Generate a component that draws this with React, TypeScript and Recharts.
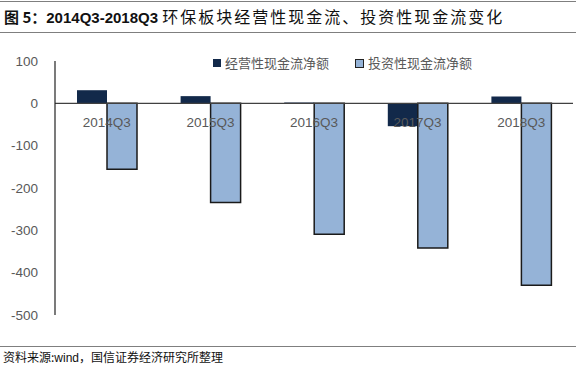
import { BarChart, Bar, XAxis, YAxis, ReferenceLine } from 'recharts';

const categories = ['2014Q3', '2015Q3', '2016Q3', '2017Q3', '2018Q3'];
const operating = [31, 17, 2, -54, 16];
const investing = [-156, -234, -309, -342, -430];
const yTicks = [100, 0, -100, -200, -300, -400, -500];

const data = categories.map((c, i) => ({ name: c, op: operating[i], inv: investing[i] }));

const W = 576;
const H = 365;
const TOP = 61;
const PLOT_BOTTOM = 315;
const X_AXIS_H = 20;
const Y_MIN = -500;
const Y_MAX = 100;
const sans = '"Liberation Sans", Arial, "Noto Sans CJK SC", sans-serif';
const cjk = '"Noto Sans CJK SC", sans-serif';

// x labels sit just under the zero line, not at the bottom of the plot
const XTick = (props: any) => {
  const { x, payload } = props;
  const plotH = PLOT_BOTTOM - TOP;
  const zeroY = TOP + plotH * (Y_MAX - 0) / (Y_MAX - Y_MIN);
  return (
    <text x={x} y={zeroY + 24} textAnchor="middle" fill="#595959" fontSize={13.5} fontFamily={sans}>
      {payload.value}
    </text>
  );
};

export default function App() {
  return (
    <div style={{ position: 'absolute', left: 0, top: 0, width: W, height: H, background: '#fff' }}>
      <div style={{ position: 'absolute', left: 0, top: 1, width: W, borderTop: '1.5px solid #7f7f7f' }} />
      <div style={{ position: 'absolute', left: 4, top: 5, fontSize: 15, color: '#111', whiteSpace: 'nowrap', lineHeight: '22px' }}>
        <span style={{ fontFamily: cjk, fontWeight: 700 }}>图 5：</span>
        <span style={{ fontFamily: sans, fontWeight: 700 }}>2014Q3-2018Q3 </span>
        <span style={{ fontFamily: cjk, fontSize: 16, letterSpacing: 2 }}>环保板块经营性现金流、投资性现金流变化</span>
      </div>
      <div style={{ position: 'absolute', left: 0, top: 32, width: W, borderTop: '1.5px solid #7f7f7f' }} />
      <div style={{ position: 'absolute', left: 0, top: 0 }}>
        <BarChart
          width={W}
          height={H}
          data={data}
          margin={{ top: TOP, right: 3, bottom: H - PLOT_BOTTOM - X_AXIS_H, left: 0 }}
          barGap={0}
          barSize={30}
        >
          <XAxis
            dataKey="name"
            axisLine={false}
            tickLine={false}
            tickSize={0}
            height={X_AXIS_H}
            tick={<XTick />}
            interval={0}
          />
          <YAxis
            domain={[Y_MIN, Y_MAX]}
            ticks={yTicks}
            width={55}
            axisLine={{ stroke: '#222', strokeWidth: 1.2 }}
            tickLine={false}
            tickSize={0}
            tickMargin={17}
            tick={{ fill: '#595959', fontSize: 13.5, fontFamily: sans }}
            interval={0}
          />
          <Bar dataKey="op" fill="#12294A" isAnimationActive={false} />
          <Bar dataKey="inv" fill="#95B3D7" stroke="#1a1a1a" strokeWidth={1.5} isAnimationActive={false} />
          <ReferenceLine y={0} stroke="#404040" strokeWidth={1.2} />
        </BarChart>
      </div>
      <div
        style={{
          position: 'absolute', left: 213, top: 55, display: 'flex', fontFamily: cjk, fontSize: 13,
          color: '#595959', lineHeight: '16px', whiteSpace: 'nowrap',
        }}
      >
        <div style={{ display: 'flex', alignItems: 'center', marginRight: 26 }}>
          <span style={{ width: 8, height: 8, background: '#12294A', marginRight: 4 }} />
          经营性现金流净额
        </div>
        <div style={{ display: 'flex', alignItems: 'center' }}>
          <span style={{ width: 7, height: 7, background: '#95B3D7', border: '1px solid #222', marginRight: 4 }} />
          投资性现金流净额
        </div>
      </div>
      <div style={{ position: 'absolute', left: 0, top: 346, width: W, borderTop: '1.5px solid #7f7f7f' }} />
      <div style={{ position: 'absolute', left: 3, top: 348, fontSize: 12, fontFamily: cjk, color: '#111', whiteSpace: 'nowrap' }}>
        资料来源:<span style={{ fontFamily: sans }}>wind</span>，国信证券经济研究所整理
      </div>
    </div>
  );
}
